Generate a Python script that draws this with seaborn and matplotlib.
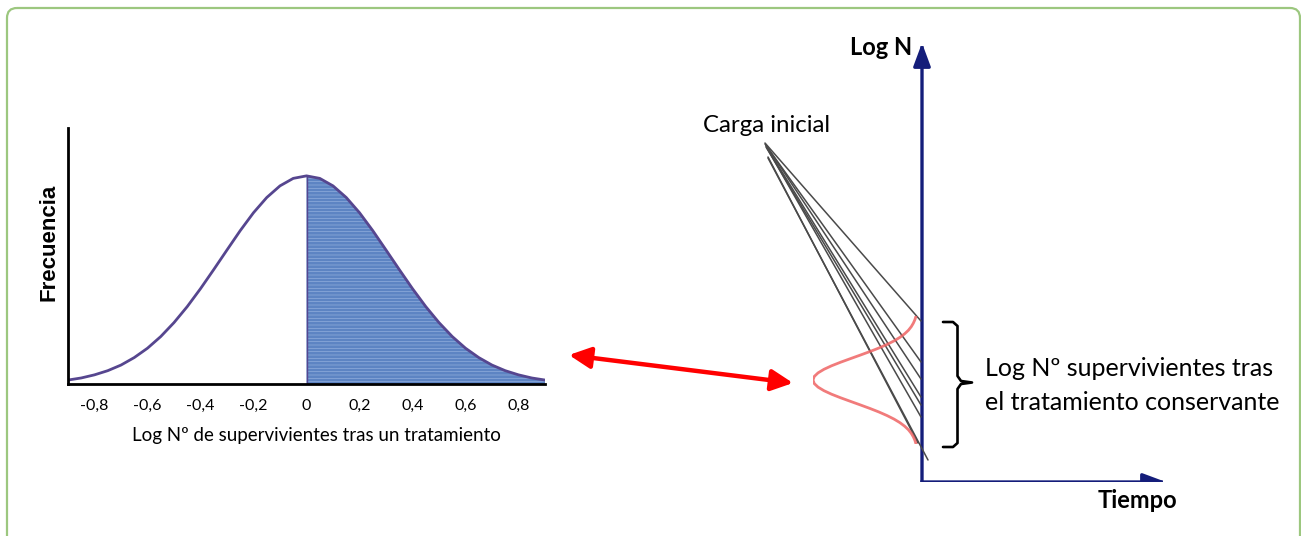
import numpy as np
import pandas as pd
import matplotlib
matplotlib.use("Agg")
import matplotlib.pyplot as plt
import seaborn as sns
from matplotlib.patches import FancyArrowPatch, FancyBboxPatch
from matplotlib.lines import Line2D

# ---------------- data ----------------
log_survivors = [-0.90, -0.85, -0.80, -0.75, -0.70, -0.65, -0.60, -0.55, -0.50, -0.45,
                 -0.40, -0.35, -0.30, -0.25, -0.20, -0.15, -0.10, -0.05, 0.00,
                 0.05, 0.10, 0.15, 0.20, 0.25, 0.30, 0.35, 0.40, 0.45, 0.50,
                 0.55, 0.60, 0.65, 0.70, 0.75, 0.80, 0.85, 0.90]
frequency = [0.019, 0.029, 0.044, 0.064, 0.091, 0.127, 0.172, 0.228, 0.295, 0.372,
             0.458, 0.550, 0.644, 0.737, 0.823, 0.896, 0.952, 0.988, 1.000,
             0.988, 0.952, 0.896, 0.823, 0.737, 0.644, 0.550, 0.458, 0.372, 0.295,
             0.228, 0.172, 0.127, 0.091, 0.064, 0.044, 0.029, 0.019]
tick_values = [-0.8, -0.6, -0.4, -0.2, 0.0, 0.2, 0.4, 0.6, 0.8]
tick_labels = ["-0,8", "-0,6", "-0,4", "-0,2", "0", "0,2", "0,4", "0,6", "0,8"]
shade_from = 0.0

# survival lines (Tiempo, Log N) : start = carga inicial, end = after treatment
fan_start_time = [-1.57, -1.57, -1.56, -1.56, -1.56, -1.55, -1.54, -1.54]
fan_start_logn = [3.39, 3.38, 3.37, 3.36, 3.35, 3.34, 3.25, 3.24]
fan_end_time = [-0.01, -0.01, -0.01, -0.01, -0.01, -0.01, -0.04, 0.06]
fan_end_logn = [1.61, 1.20, 1.03, 0.85, 0.77, 0.65, 0.39, 0.22]

# ---------------- style ----------------
sns.set_theme(style="white")
plt.rcParams["font.family"] = ["Lato", "DejaVu Sans"]
plt.rcParams["hatch.linewidth"] = 0.4

W, H = 1301, 536
fig = plt.figure(figsize=(W / 100, H / 100), dpi=100)
fig.patch.set_facecolor("white")


def box(x0, y0, x1, y1):
    return [x0 / W, 1 - y1 / H, (x1 - x0) / W, (y1 - y0) / H]


# ---------------- left: frequency curve ----------------
ax = fig.add_axes(box(68, 128, 545, 384))
xs = np.array(log_survivors)
fs = np.array(frequency)
m = xs >= shade_from
ax.fill_between(xs[m], 0, fs[m], facecolor="#5d84c3", edgecolor="#9db7e2",
                hatch="-----", linewidth=0, zorder=1)
ax.vlines(shade_from, 0, fs[xs == shade_from][0], color="#56468f", lw=1.0, zorder=2)
sns.lineplot(x=log_survivors, y=frequency, ax=ax, color="#56468f", lw=2.0, zorder=3)
ax.set_xlim(-0.9, 0.9)
ax.set_ylim(0, 1.23)
sns.despine(ax=ax)
for s in ("left", "bottom"):
    ax.spines[s].set_color("black")
    ax.spines[s].set_linewidth(2.0)
    ax.spines[s].set_zorder(4)
ax.set_xticks(tick_values, tick_labels)
ax.set_yticks([])
ax.tick_params(axis="x", length=0, pad=11, labelsize=11.5, colors="black")
ax.set_xlabel("Log Nº de supervivientes tras un tratamiento", fontsize=13.5, color="black")
ax.xaxis.set_label_coords((316 - 68) / 477, (384 - 427) / 256)
ax.set_ylabel("Frecuencia", fontsize=16, fontweight="bold", color="black",
              family=["Liberation Sans", "DejaVu Sans"])
ax.yaxis.set_label_coords((59 - 68) / 477, (384 - 242) / 256)
ax.set_facecolor("none")

# ---------------- right: Log N vs Tiempo ----------------
axr = fig.add_axes(box(690, 30, 1180, 482))
axr.set_xlim(-2.32, 2.58)
axr.set_ylim(0, 4.52)
axr.axis("off")
fan = pd.DataFrame({
    "line": list(range(len(fan_start_time))) * 2,
    "tiempo": fan_start_time + fan_end_time,
    "logn": fan_start_logn + fan_end_logn,
})
sns.lineplot(data=fan, x="tiempo", y="logn", units="line", estimator=None,
             sort=False, color="#4a4a4a", lw=1.1, ax=axr)
navy = "#141d7a"
for end in [(0, 4.39), (2.44, 0)]:
    axr.add_patch(FancyArrowPatch((0, 0), end, arrowstyle="-|>,head_length=0.7,head_width=0.26",
                                  mutation_scale=20, color=navy, lw=2.4,
                                  shrinkA=0, shrinkB=0, capstyle="projecting"))

# red sideways distribution of survivors
axi = fig.add_axes(box(813, 316, 918, 444))
sns.lineplot(x=-fs, y=log_survivors, sort=False, estimator=None, color="#ef6464",
             lw=2.0, alpha=0.85, ax=axi)
axi.set_xlim(-1.0, 0.0)
axi.set_ylim(-0.9, 0.9)
axi.axis("off")

# ---------------- overlay: frame, arrow, bracket, texts ----------------
ov = fig.add_axes([0, 0, 1, 1])
ov.set_xlim(0, W)
ov.set_ylim(H, 0)
ov.axis("off")
ov.add_patch(FancyBboxPatch((7, 8), 1293, 540, boxstyle="round,pad=0,rounding_size=10",
                            fill=False, ec="#9cc77f", lw=1.6))
ov.add_patch(FancyArrowPatch((569, 355), (793, 383),
                             arrowstyle="<|-|>,head_length=0.65,head_width=0.32",
                             mutation_scale=20, color="#ff0000", lw=3.2,
                             shrinkA=0, shrinkB=0))
bx = [943, 953, 957.5, 957.5, 961, 972, 961, 957.5, 957.5, 953, 943]
by = [322, 322, 326, 376, 381, 382.5, 384, 389, 443, 447, 447]
ov.add_line(Line2D(bx, by, color="black", lw=1.9, solid_joinstyle="round"))

ov.text(703, 132, "Carga inicial", fontsize=17.3, color="black", va="baseline")
ov.text(985, 376, "Log Nº supervivientes tras", fontsize=18, color="black", va="baseline")
ov.text(985, 410, "el tratamiento conservante", fontsize=18, color="black", va="baseline")
ov.text(912, 55, "Log N", fontsize=17, fontweight="bold", color="black", ha="right", va="baseline")
ov.text(1137, 508, "Tiempo", fontsize=17, fontweight="bold", color="black", ha="center", va="baseline")

fig.savefig("out.png", dpi=100)
